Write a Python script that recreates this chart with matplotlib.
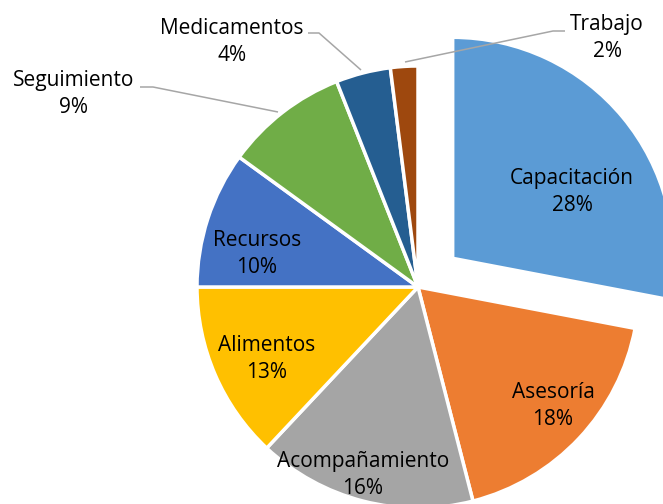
import matplotlib
matplotlib.use("Agg")
import matplotlib.pyplot as plt

categories = ["Capacitación", "Asesoría", "Acompañamiento", "Alimentos",
              "Recursos", "Seguimiento", "Medicamentos", "Trabajo"]
values = [28, 18, 16, 13, 10, 9, 4, 2]
colors = ["#5B9BD5", "#ED7D31", "#A5A5A5", "#FFC000",
          "#4472C4", "#70AD47", "#255E91", "#9E480E"]
explode_px = [45, 0, 0, 0, 0, 0, 0, 0]

W, H = 663, 504
fig = plt.figure(figsize=(W / 100, H / 100), dpi=100)
ax = fig.add_axes([0, 0, 1, 1])

def py(y):
    return H - y

cx, cy, R = 418, 287, 221
ax.pie(values, colors=colors, startangle=90, counterclock=False,
       center=(cx, py(cy)), radius=R, explode=explode_px,
       wedgeprops=dict(edgecolor="white", linewidth=2.5))
ax.set_xlim(0, W)
ax.set_ylim(0, H)
ax.set_aspect("equal")
ax.axis("off")

label_pos = {
    "Capacitación": (572, 192),
    "Asesoría": (553, 406),
    "Acompañamiento": (363, 475),
    "Alimentos": (267, 359),
    "Recursos": (257, 254),
    "Seguimiento": (74, 94),
    "Medicamentos": (232, 42),
    "Trabajo": (607, 38),
}
font = dict(family=["Open Sans", "DejaVu Sans"], fontsize=15, color="black")
for cat, v in zip(categories, values):
    x, y = label_pos[cat]
    ax.text(x, py(y), f"{cat}\n{v}%", ha="center", va="center",
            linespacing=1.35, **font)

leaders = {
    "Seguimiento": [(140, 87), (153, 87), (278, 112)],
    "Medicamentos": [(308, 33), (319, 33), (361, 70)],
    "Trabajo": [(565, 31), (553, 31), (405, 62)],
}
for pts in leaders.values():
    ax.plot([p[0] for p in pts], [py(p[1]) for p in pts],
            color="#A6A6A6", linewidth=1.1, solid_capstyle="butt")

fig.savefig("out.png", dpi=100)
